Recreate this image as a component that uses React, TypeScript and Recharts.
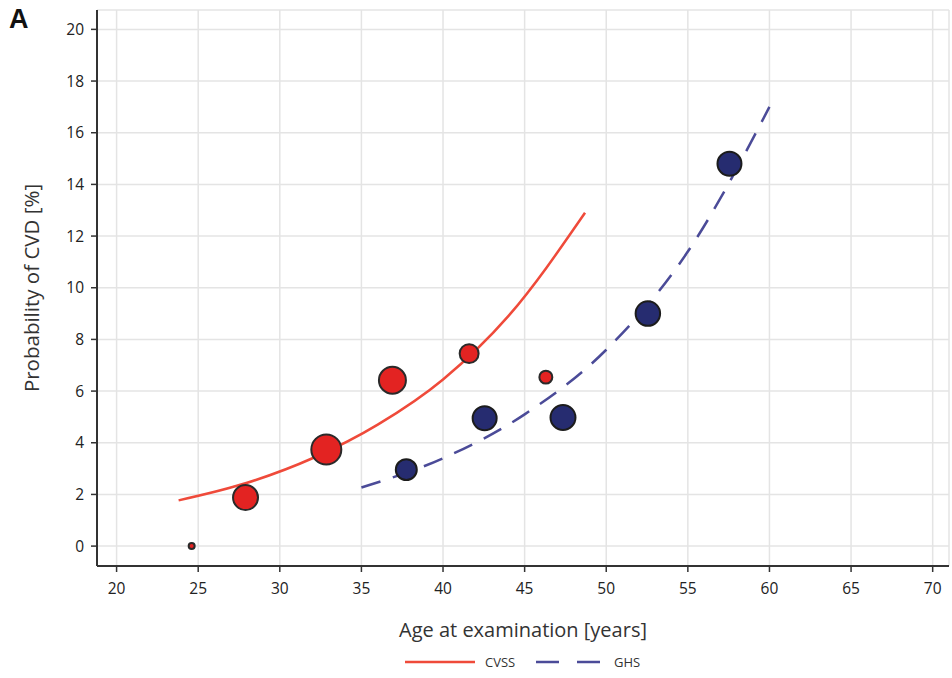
import React from 'react';
import { ComposedChart, Line, Scatter, XAxis, YAxis, ZAxis, CartesianGrid, Legend } from 'recharts';

const xTicks = [20, 25, 30, 35, 40, 45, 50, 55, 60, 65, 70];
const yTicks = [0, 2, 4, 6, 8, 10, 12, 14, 16, 18, 20];

// observed groups: age, probability, bubble weight (radius^2)
const cvssAge = [24.6, 27.9, 32.85, 36.9, 41.6, 46.3];
const cvssProb = [0, 1.88, 3.74, 6.42, 7.45, 6.54];
const cvssWeight = [9, 156, 225, 182, 90, 42];

const ghsAge = [37.75, 42.55, 47.35, 52.55, 57.55];
const ghsProb = [2.96, 4.95, 4.98, 9.0, 14.8];
const ghsWeight = [110, 144, 156, 150, 144];

// fitted curves
const cvssFitAge = [23.8, 28, 32, 36, 40, 44, 48.7];
const cvssFitProb = [1.77, 2.45, 3.4, 4.7, 6.45, 8.9, 12.9];
const ghsFitAge = [35, 40, 45, 50, 55, 60];
const ghsFitProb = [2.27, 3.4, 5.1, 7.6, 11.4, 17.0];

const toPoints = (xs: number[], ys: number[], zs?: number[]) =>
  xs.map((x, i) => ({ x, y: ys[i], z: zs ? zs[i] : 1 }));

const cvssPoints = toPoints(cvssAge, cvssProb, cvssWeight);
const ghsPoints = toPoints(ghsAge, ghsProb, ghsWeight);
const cvssFit = toPoints(cvssFitAge, cvssFitProb);
const ghsFit = toPoints(ghsFitAge, ghsFitProb);

const FONT = '"Open Sans", "Noto Sans", sans-serif';
const AXIS = '#333';
const RED_LINE = '#ef4a3a';
const BLUE_LINE = '#4b4b98';

const tickStyle = { fontSize: 15.5, fill: '#222', fontFamily: FONT };

const LegendContent = () => (
  <svg width={949} height={30} style={{ display: 'block' }}>
    <line x1={405} y1={21} x2={475} y2={21} stroke={RED_LINE} strokeWidth={2.5} />
    <text x={485} y={25.5} fontSize={13} fill="#333" fontFamily={FONT}>CVSS</text>
    <line x1={536} y1={21} x2={602} y2={21} stroke={BLUE_LINE} strokeWidth={2.5} strokeDasharray="23 18" />
    <text x={614} y={25.5} fontSize={13} fill="#333" fontFamily={FONT}>GHS</text>
  </svg>
);

export default function App() {
  return (
    <div style={{ position: 'absolute', left: 0, top: 0, width: 952, height: 678, background: '#fff' }}>
      <div
        style={{
          position: 'absolute', left: 9, top: 4, fontFamily: 'Arial, "Liberation Sans", sans-serif',
          fontWeight: 700, fontSize: 27, color: '#111',
        }}
      >
        A
      </div>
      <ComposedChart width={952} height={678} margin={{ top: 10, right: 3, left: 0, bottom: 7 }}>
        <CartesianGrid stroke="#e4e4e4" strokeWidth={1.5} />
        <XAxis
          dataKey="x"
          type="number"
          domain={[18.8, 71]}
          ticks={xTicks}
          allowDataOverflow
          height={75}
          tickSize={6}
          tickMargin={11}
          tick={tickStyle}
          axisLine={{ stroke: AXIS, strokeWidth: 2 }}
          tickLine={{ stroke: AXIS, strokeWidth: 1.5 }}
          label={{
            value: 'Age at examination [years]', position: 'insideBottom', offset: 4,
            style: { fontSize: 20, fill: '#333', fontFamily: FONT },
          }}
        />
        <XAxis xAxisId="top" orientation="top" type="number" domain={[18.8, 71]} height={0}
          tick={false} tickLine={false} axisLine={{ stroke: '#444', strokeWidth: 2 }} />
        <YAxis
          dataKey="y"
          type="number"
          domain={[-0.77, 20.75]}
          ticks={yTicks}
          allowDataOverflow
          width={97}
          tickSize={6}
          tickMargin={7}
          tick={tickStyle}
          axisLine={{ stroke: AXIS, strokeWidth: 2 }}
          tickLine={{ stroke: AXIS, strokeWidth: 1.5 }}
          label={{
            value: 'Probability of CVD [%]', angle: -90, position: 'insideLeft', offset: 32,
            style: { fontSize: 20.5, fill: '#333', fontFamily: FONT, textAnchor: 'middle' },
          }}
        />
        <YAxis yAxisId="right" orientation="right" type="number" domain={[-0.77, 20.75]} width={0}
          tick={false} tickLine={false} axisLine={{ stroke: '#555', strokeWidth: 1.2 }} />
        <ZAxis dataKey="z" type="number" domain={[0, 225]} range={[0, 707]} />
        <Line data={cvssFit} dataKey="y" type="monotone" stroke={RED_LINE} strokeWidth={2.5}
          dot={false} activeDot={false} isAnimationActive={false} />
        <Line data={ghsFit} dataKey="y" type="monotone" stroke={BLUE_LINE} strokeWidth={2.5}
          strokeDasharray="20 13" dot={false} activeDot={false} isAnimationActive={false} />
        <Scatter data={cvssPoints} shape="circle" fill="#e32322" stroke="#2a2a2a" strokeWidth={2}
          isAnimationActive={false} />
        <Scatter data={ghsPoints} shape="circle" fill="#262c70" stroke="#1c1c1c" strokeWidth={2}
          isAnimationActive={false} />
        <Legend verticalAlign="bottom" content={<LegendContent />} />
      </ComposedChart>
    </div>
  );
}
